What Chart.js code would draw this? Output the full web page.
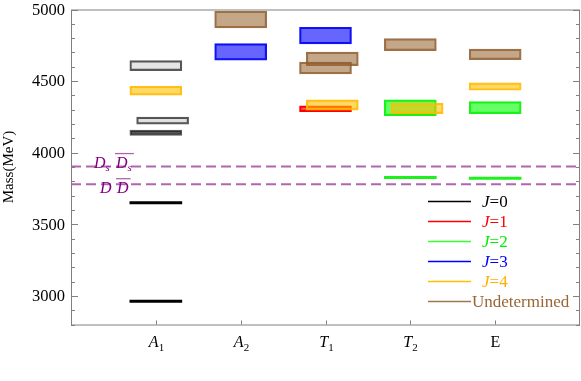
<!DOCTYPE html>
<html><head><meta charset="utf-8">
<script src="https://cdn.jsdelivr.net/npm/chart.js@4/dist/chart.umd.min.js"></script>
<style>html,body{margin:0;padding:0;background:#fff}canvas{display:block}</style>
</head><body>
<canvas id="c" width="581" height="381"></canvas>
<script>
// ---- data ----
const categories = ['A1', 'A2', 'T1', 'T2', 'E'];
const yTicks = [3000, 3500, 4000, 4500, 5000];
const legendLabels = ['J=0', 'J=1', 'J=2', 'J=3', 'J=4', 'Undetermined'];
// boxes: [categoryIndex, low, high, shifted(0/1)]
const j0Boxes = [[0, 4573, 4643, 0], [0, 4199, 4248, 1], [0, 4120, 4157, 0]];
const j0Lines = [[0, 3650], [0, 2963]];
const j1Boxes = [[2, 4287, 4327, 0]];
const j2Boxes = [[3, 4259, 4369, 0], [4, 4273, 4357, 0]];
const j2Lines = [[3, 3826], [4, 3822]];
const j3Boxes = [[1, 4646, 4762, 0], [2, 4760, 4876, 0]];
const j4Boxes = [[0, 4402, 4464, 0], [2, 4297, 4369, 1], [3, 4273, 4346, 1], [4, 4436, 4487, 0]];
const undBoxes = [[1, 4872, 4988, 0], [2, 4608, 4702, 1], [2, 4550, 4632, 0], [3, 4713, 4797, 0], [4, 4650, 4723, 0]];
const thresholds = [3903, 3780]; // Ds Ds-bar, D D-bar

// ---- styles ----
const SHIFT = 0.08;
const LINE_HALF = 8;
const j0Fills = ['rgba(0,0,0,0.1)', 'rgba(0,0,0,0.12)', 'rgba(0,0,0,0.66)'];
const legendColors = ['#000000', '#ff0000', '#00ee00', '#0000ff', '#ffb000', '#996633'];
const legendLineColors = ['#000000', '#ff0000', '#33ff33', '#0000ff', '#ffc000', '#a07850'];

const toBars = arr => arr.map(b => ({x: b[0] + 1 + (b[3] ? SHIFT : 0), y: [b[1], b[2]]}));
const toLines = arr => arr.map(b => ({x: b[0] + 1, y: [b[1] - LINE_HALF, b[1] + LINE_HALF]}));

const barCommon = {barThickness: 52, borderWidth: 1.5, borderSkipped: false, grouped: false};
const datasets = [
  Object.assign({label: 'J4', data: toBars(j4Boxes), backgroundColor: 'rgba(255,190,0,0.6)', borderColor: 'rgba(255,185,0,0.9)', order: 1}, barCommon),
  Object.assign({label: 'J1', data: toBars(j1Boxes), backgroundColor: 'rgba(255,0,0,0.65)', borderColor: 'rgb(255,0,0)', order: 2}, barCommon),
  Object.assign({label: 'J2', data: toBars(j2Boxes), backgroundColor: 'rgba(0,255,0,0.6)', borderColor: 'rgb(30,240,30)', order: 3}, barCommon),
  Object.assign({label: 'J3', data: toBars(j3Boxes), backgroundColor: 'rgba(0,0,255,0.6)', borderColor: 'rgb(20,20,240)', order: 4}, barCommon),
  Object.assign({label: 'Und', data: toBars(undBoxes), backgroundColor: 'rgba(153,102,51,0.58)', borderColor: 'rgba(140,90,45,0.85)', order: 5}, barCommon),
  Object.assign({label: 'J0', data: toBars(j0Boxes), backgroundColor: j0Fills, borderColor: 'rgba(0,0,0,0.65)', order: 6}, barCommon),
  {label: 'J0l', data: toLines(j0Lines), backgroundColor: '#000', borderWidth: 0, barThickness: 52, grouped: false, order: 7},
  {label: 'J2l', data: toLines(j2Lines), backgroundColor: 'rgb(30,240,30)', borderWidth: 0, barThickness: 52, grouped: false, order: 7},
];
thresholds.forEach((t, i) => datasets.push({
  type: 'line', label: 'th' + i, data: [{x: 0, y: t}, {x: 6, y: t}],
  borderColor: 'rgba(150,50,150,0.75)', borderWidth: 2, borderDash: [10, 5], pointRadius: 0, order: 0
}));

const SERIF = "'Liberation Serif', serif";

const decor = {
  id: 'decor',
  afterDraw(chart) {
    const {ctx, chartArea: a, scales: {x, y}} = chart;
    ctx.save();
    // frame
    ctx.strokeStyle = '#808080';
    ctx.lineWidth = 1;
    ctx.strokeRect(a.left + 0.5, a.top + 0.5, a.right - a.left - 1, a.bottom - a.top);
    // y ticks
    for (let v = y.min; v <= y.max; v += 100) {
      const py = Math.round(y.getPixelForValue(v)) + 0.5;
      const len = v % 500 === 0 ? 7 : 4;
      ctx.beginPath();
      ctx.moveTo(a.left, py); ctx.lineTo(a.left + len, py);
      ctx.moveTo(a.right, py); ctx.lineTo(a.right - len, py);
      ctx.stroke();
    }
    // y tick labels
    ctx.fillStyle = '#000';
    ctx.font = '16.5px ' + SERIF;
    ctx.textAlign = 'right';
    ctx.textBaseline = 'middle';
    yTicks.forEach(v => ctx.fillText(String(v), a.left - 6, y.getPixelForValue(v) + 1));
    // x ticks + labels
    categories.forEach((c, i) => {
      const px = Math.round(x.getPixelForValue(i + 1)) + 0.5;
      ctx.strokeStyle = '#808080';
      ctx.beginPath();
      ctx.moveTo(px, a.bottom); ctx.lineTo(px, a.bottom - 4);
      ctx.stroke();
      ctx.fillStyle = '#000';
      ctx.textBaseline = 'alphabetic';
      const base = a.bottom + 22;
      if (c.length === 2) {
        ctx.font = 'italic 16px ' + SERIF;
        const w1 = ctx.measureText(c[0]).width;
        ctx.font = '11px ' + SERIF;
        const w2 = ctx.measureText(c[1]).width;
        const sx = px - (w1 + w2) / 2;
        ctx.font = 'italic 16px ' + SERIF;
        ctx.textAlign = 'left';
        ctx.fillText(c[0], sx, base);
        ctx.font = '11px ' + SERIF;
        ctx.fillText(c[1], sx + w1, base + 4);
      } else {
        ctx.font = '16px ' + SERIF;
        ctx.textAlign = 'center';
        ctx.fillText(c, px, base);
      }
    });
    // threshold labels
    const drawD = (sx, base, sub, bar) => {
      ctx.fillStyle = '#800080';
      ctx.textAlign = 'left';
      ctx.textBaseline = 'alphabetic';
      ctx.font = 'italic 16px ' + SERIF;
      ctx.fillText('D', sx, base);
      let w = ctx.measureText('D').width;
      if (sub) {
        ctx.font = 'italic 11px ' + SERIF;
        ctx.fillText('s', sx + w, base + 3);
        w += ctx.measureText('s').width;
      }
      if (bar) {
        ctx.strokeStyle = 'rgba(150,50,150,0.75)';
        ctx.lineWidth = 1.3;
        ctx.beginPath();
        ctx.moveTo(sx - 1, base - 14.5); ctx.lineTo(sx + w + 2, base - 14.5);
        ctx.stroke();
      }
    };
    const y1 = y.getPixelForValue(thresholds[0]);
    drawD(a.left + 23, y1 + 1.5, true, false);
    drawD(a.left + 45, y1 + 1.5, true, true);
    const y2 = y.getPixelForValue(thresholds[1]);
    drawD(a.left + 29, y2 + 9, false, false);
    drawD(a.left + 46, y2 + 9, false, true);
    // legend
    const lx0 = 428, lx1 = 471, ly0 = 201.5, dy = 20;
    legendLabels.forEach((lab, i) => {
      const ly = ly0 + i * dy;
      ctx.strokeStyle = legendLineColors[i];
      ctx.lineWidth = 1.5;
      ctx.beginPath();
      ctx.moveTo(lx0, ly); ctx.lineTo(lx1, ly);
      ctx.stroke();
      ctx.fillStyle = legendColors[i];
      ctx.textBaseline = 'middle';
      ctx.textAlign = 'left';
      if (lab.startsWith('J')) {
        ctx.font = 'italic 17px ' + SERIF;
        ctx.fillText('J', 482, ly + 1);
        const w = ctx.measureText('J').width;
        ctx.font = '17px ' + SERIF;
        ctx.fillText(lab.slice(1), 482 + w, ly + 1);
      } else {
        ctx.font = '17px ' + SERIF;
        ctx.fillText(lab, 472, ly + 1);
      }
    });
    ctx.restore();
  }
};

new Chart(document.getElementById('c'), {
  type: 'bar',
  data: {datasets},
  options: {
    responsive: false,
    animation: false,
    layout: {padding: {top: 9.5, right: 1, bottom: 56.5, left: 0}},
    plugins: {legend: {display: false}, tooltip: {enabled: false}},
    scales: {
      x: {type: 'linear', min: 0, max: 6, offset: false, display: false},
      y: {
        type: 'linear', min: 2800, max: 5000,
        afterFit(s) { s.width = 71; s.paddingTop = 0; s.paddingBottom = 0; },
        grid: {display: false}, border: {display: false},
        ticks: {display: false, stepSize: 100},
        title: {display: true, text: 'Mass(MeV)', color: '#000', font: {family: SERIF, size: 15}, padding: {top: 0, bottom: 0}}
      }
    }
  },
  plugins: [decor]
});
</script>
</body></html>
